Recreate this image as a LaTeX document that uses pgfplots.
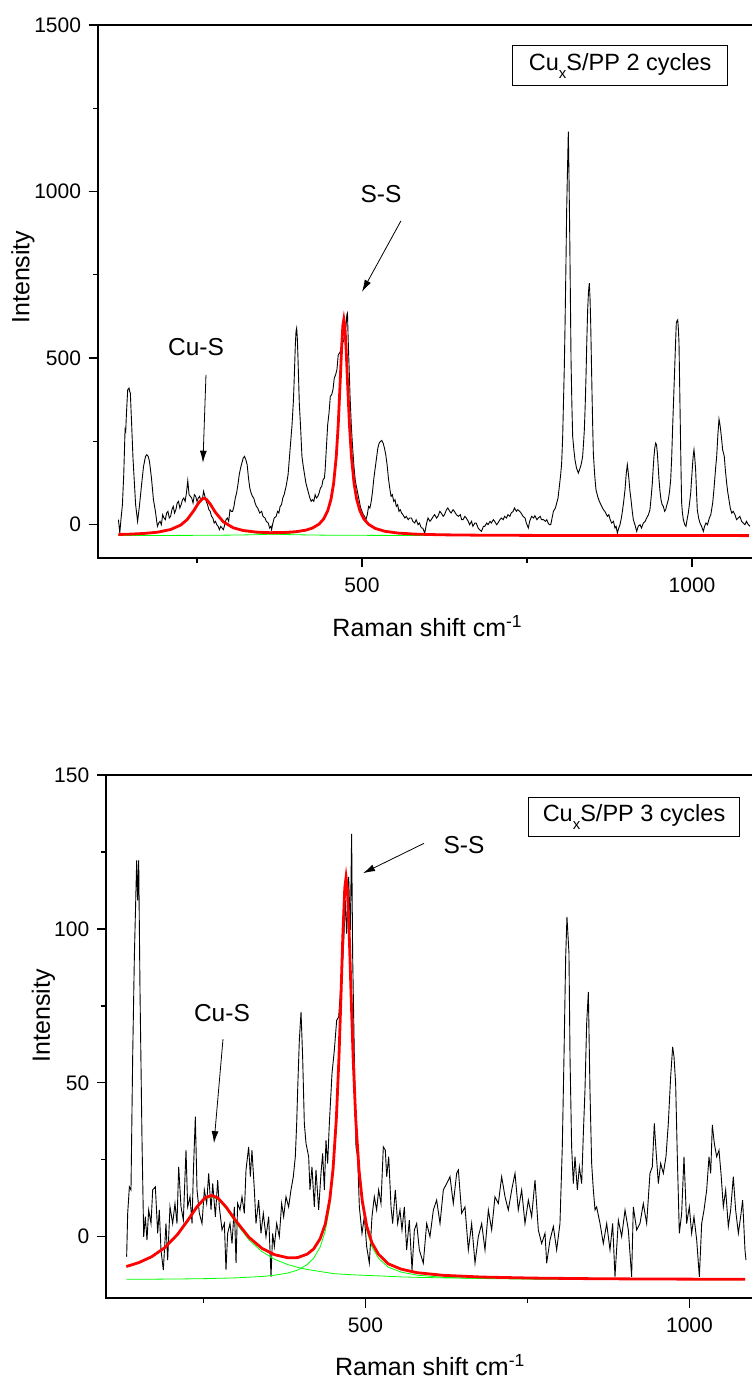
\documentclass[border=0pt]{standalone}
\usepackage{fontspec}
\setmainfont{Liberation Sans}
\usepackage{pgfplots}
\pgfplotsset{compat=1.18}
\usetikzlibrary{arrows.meta}
\newcommand{\subx}{\raisebox{-8bp}{\fontsize{15bp}{15bp}\selectfont x}}
\tikzset{
  ann/.style={font=\fontsize{24.5bp}{29bp}\selectfont},
  arr/.style={line width=0.8bp, -{Latex[length=12bp,width=7bp]}},
  box/.style={draw, line width=1bp, font=\fontsize{23.5bp}{28bp}\selectfont, inner sep=0pt},
}
\pgfplotsset{
  ramanaxis/.style={
    scale only axis,
    xmin=100, xmax=1100,
    axis line style={line width=1.6bp},
    every tick/.style={line width=1.3bp, black},
    tick align=outside,
    tick pos=left,
    major tick length=9.5bp,
    minor tick length=5bp,
    ticklabel style={font=\fontsize{21bp}{25bp}\selectfont},
    xticklabel style={yshift=-7bp},
    yticklabel style={xshift=-4bp},
    label style={font=\fontsize{25bp}{30bp}\selectfont},
    /pgf/number format/assume math mode=true,
    /pgf/number format/1000 sep={},
    xtick={500,1000}, minor xtick={250,750},
    xlabel={Raman shift cm\textsuperscript{-1}},
    ylabel={Intensity},
  },
  spec/.style={black, line width=0.9bp},
  fitc/.style={red, line width=2.8bp},
  comp/.style={green, line width=0.8bp},
}
\begin{document}
\begin{tikzpicture}
% ---------------- top axis ----------------
\begin{axis}[ramanaxis,
  at={(98bp,820bp)}, anchor=south west,
  width=660bp, height=533bp,
  ymin=-100, ymax=1500,
  ytick={0,500,1000,1500}, minor ytick={250,750,1250},
  ylabel style={at={(rel axis cs:-0.1136,0.527)}, anchor=center},
  xlabel style={at={(rel axis cs:0.499,-0.148)}, anchor=base},
]
\addplot[spec] coordinates {
(131,15) (133,-25) (135,20) (137,60) (139,150) (141,285) (142,280) (143,330) (145,405) (147,410) (148,400) (149,395) (151,300) (153,200) (155,130) (157,60) (160,10) (163,60) (166,120) (169,175) (172,205) (174,210) (176,205) (178,190) (181,140) (184,75) (187,40) (190,-5) (192,5) (194,10) (196,0) (198,30) (200,20) (202,15) (204,35) (206,40) (208,20) (210,25) (212,45) (214,55) (216,35) (218,45) (220,65) (222,70) (224,50) (226,60) (228,75) (230,80) (232,70) (234,95) (236,132) (238,90) (240,85) (242,80) (244,65) (246,90) (248,85) (250,70) (252,80) (254,85) (256,70) (258,75) (260,100) (262,85) (264,70) (266,60) (268,45) (270,40) (272,25) (274,20) (276,5) (278,10) (280,0) (282,-5) (284,-15) (286,-5) (288,-10) (290,-15) (292,0) (294,15) (296,20) (298,10) (300,45) (302,40) (304,40) (306,55) (308,80) (310,95) (312,120) (314,150) (316,170) (318,185) (320,200) (322,205) (324,195) (326,180) (328,140) (330,110) (332,95) (334,85) (336,80) (338,65) (340,55) (342,50) (345,35) (348,40) (350,25) (353,20) (355,10) (358,5) (360,-10) (362,-5) (363,-15) (365,5) (367,20) (370,25) (372,40) (374,35) (376,55) (378,60) (380,80) (382,90) (385,115) (388,150) (390,200) (392,250) (394,300) (396,370) (397,420) (399,540) (400,580) (401,590) (402,560) (403,500) (405,365) (407,290) (409,205) (411,175) (413,150) (415,125) (417,110) (419,95) (421,80) (423,70) (425,75) (427,70) (429,90) (431,80) (433,85) (435,95) (437,110) (439,115) (441,135) (443,140) (444,160) (446,230) (448,300) (450,335) (452,385) (454,390) (456,405) (458,440) (460,450) (462,465) (464,510) (466,515) (468,525) (470,555) (472,550) (474,580) (476,600) (477,630) (478,635) (479,560) (480,500) (482,380) (484,290) (486,225) (488,170) (490,130) (492,110) (494,90) (496,70) (498,50) (500,40) (502,30) (504,25) (506,15) (508,30) (510,55) (512,50) (514,70) (516,100) (518,140) (520,170) (522,200) (524,230) (526,245) (528,250) (530,253) (532,245) (534,230) (536,210) (538,180) (540,140) (542,110) (544,85) (546,90) (548,70) (550,75) (552,55) (554,60) (556,40) (558,45) (560,35) (562,30) (565,20) (567,25) (570,15) (572,20) (575,20) (577,10) (580,5) (582,15) (585,0) (587,5) (590,-10) (592,-10) (595,-25) (598,5) (600,20) (603,10) (605,15) (608,25) (610,30) (613,20) (615,25) (618,40) (620,35) (623,25) (625,30) (628,45) (630,50) (633,40) (635,35) (638,45) (640,40) (643,30) (646,25) (649,30) (651,15) (653,15) (656,25) (658,20) (661,10) (663,0) (666,10) (668,-5) (671,5) (673,5) (676,-10) (678,-15) (681,-20) (684,-5) (686,-5) (689,5) (691,0) (694,10) (696,5) (699,15) (701,10) (704,0) (706,5) (709,15) (711,20) (714,15) (716,25) (719,20) (721,30) (724,25) (726,35) (729,40) (731,50) (734,40) (736,45) (739,40) (741,35) (744,25) (747,20) (749,5) (752,-10) (754,10) (757,25) (760,20) (762,27) (765,15) (767,20) (770,25) (772,15) (775,15) (778,10) (780,15) (782,5) (784,0) (786,0) (788,20) (790,40) (793,50) (795,65) (797,80) (799,115) (801,150) (802.5,185) (804,260) (805,345) (806.5,470) (807.6,595) (809,780) (810.1,945) (811.5,1080) (812.6,1180) (813.6,1050) (814.6,895) (815.7,690) (816.7,495) (818,360) (819.2,265) (821,225) (822.7,195) (825,170) (827.8,155) (829.5,165) (831.3,175) (833,190) (834.3,205) (835.5,240) (836.9,285) (838.2,360) (839.4,445) (840.6,550) (841.9,645) (843.2,700) (844.4,725) (845.5,680) (846.5,605) (847.5,500) (848.5,395) (849.5,300) (850.5,215) (852.5,150) (854.5,105) (857,85) (859.6,70) (862,60) (865.7,45) (868,40) (871.7,25) (874,30) (876,15) (878.3,5) (881,10) (883.3,-10) (885,-5) (886.9,-25) (889,-10) (890.9,0) (893,20) (894.9,45) (896.5,70) (898.5,105) (900.2,150) (902,180) (903.2,160) (904.5,135) (906,100) (907.6,75) (909.5,40) (911.1,15) (913.5,0) (916.2,-20) (918.5,-5) (921.2,0) (923.5,-10) (926.3,5) (929,10) (931.3,20) (934,30) (936.3,45) (938,80) (939.9,125) (941.2,170) (942.4,205) (943.6,230) (944.9,245) (946.2,240) (947.5,215) (948.8,175) (950,135) (951.5,100) (953,75) (954.8,60) (956.6,55) (958.5,40) (960.1,45) (962,60) (964.1,75) (966,100) (967.7,135) (969.2,200) (970.7,295) (972.2,380) (973.7,465) (975,540) (976.2,605) (977.3,612) (978.3,615) (979.3,590) (980.3,545) (981.3,420) (982.3,295) (983.3,170) (984.3,65) (985.5,35) (986.9,15) (989,0) (990.9,-5) (992.5,15) (994.4,35) (996,60) (998,95) (999.5,140) (1001,185) (1002,210) (1003,225) (1004.2,200) (1005.5,165) (1006.8,100) (1008,45) (1010,20) (1012.1,5) (1014.5,-5) (1017.2,-20) (1019,-5) (1021.2,5) (1023.5,0) (1026.2,20) (1028.5,30) (1031.3,65) (1033,100) (1034.8,145) (1036,175) (1037.4,205) (1039.2,270) (1040.9,317) (1042.4,300) (1043.9,275) (1045.2,250) (1046.4,225) (1047.7,215) (1048.9,205) (1050.5,165) (1052.5,125) (1054,100) (1056,75) (1058,50) (1060.1,35) (1062.5,40) (1065.1,30) (1067.5,15) (1070.2,20) (1072.5,25) (1075.2,10) (1077.5,5) (1080.3,0) (1082.5,10) (1085.3,0) (1087.9,-5)
};
\addplot[comp] coordinates {
(131,-29.9) (150,-28.8) (170,-26.8) (190,-23.2) (210,-15.4) (225,-2.3) (235,14.2) (245,40.9) (252,63.3) (258,76.5) (261,78) (264,75.4) (270,60.8) (278,35.3) (290,6.8) (305,-11.1) (320,-19.6) (340,-25.1) (360,-27.8) (380,-29.4) (400,-30.3) (440,-31.4) (500,-32.0) (600,-32.5) (800,-32.8) (1086,-32.9)
};
\addplot[comp] coordinates {
(131,-32.6) (200,-32.3) (250,-32.0) (300,-31.3) (340,-30.2) (380,-27.3) (400,-23.8) (415,-18.5) (425,-12.0) (435,0.1) (442,15.8) (448,39.6) (453,74.6) (457,122.2) (461,202.9) (464,298.5) (467,429.9) (469,524.7) (471,596.3) (472.5,615) (474,596.3) (476,524.7) (478,429.9) (481,298.5) (484,202.9) (488,122.2) (492,74.6) (497,39.6) (503,15.8) (510,0.1) (520,-12.0) (535,-20.7) (555,-25.9) (580,-28.8) (620,-30.8) (680,-31.9) (760,-32.4) (860,-32.7) (1086,-32.8)
};
\addplot[fitc] coordinates {
(131,-29.5) (150,-28.3) (170,-26.3) (190,-22.6) (210,-14.6) (225,-1.5) (235,15.0) (245,41.8) (252,64.3) (258,77.6) (261,79.1) (264,76.5) (270,62.0) (278,36.6) (290,8.3) (305,-9.4) (320,-17.5) (340,-22.3) (360,-24.0) (380,-23.7) (400,-21.1) (415,-16.3) (425,-10.0) (435,1.8) (442,17.4) (448,41.1) (453,76.0) (457,123.6) (461,204.3) (464,299.9) (467,431.3) (469,526.1) (471,597.7) (472.5,616.4) (474,597.5) (476,525.9) (478,431.1) (481,299.6) (484,204.0) (488,123.3) (492,75.7) (497,40.6) (503,16.7) (510,1.0) (520,-11.2) (535,-20.0) (555,-25.3) (580,-28.3) (620,-30.4) (680,-31.6) (760,-32.2) (860,-32.5) (960,-32.7) (1086,-32.8)
};
\node[ann] at (axis cs:528.8,993) {S-S};
\draw[arr] (axis cs:559,912) -- (axis cs:500,699);
\node[ann] at (axis cs:248.5,534) {Cu-S};
\draw[arr] (axis cs:263.6,450) -- (axis cs:259,186);
\node[box, minimum width=215bp, minimum height=40bp] at (axis cs:891.2,1378) {Cu\subx S/PP 2 cycles};
\end{axis}
% ---------------- bottom axis ----------------
\begin{axis}[ramanaxis,
  at={(106.3bp,79.7bp)}, anchor=south west,
  width=648bp, height=523.3bp,
  ymin=-20, ymax=150,
  ytick={0,50,100,150}, minor ytick={25,75,125},
  ylabel style={at={(rel axis cs:-0.0969,0.540)}, anchor=center},
  xlabel style={at={(rel axis cs:0.4995,-0.1466)}, anchor=base},
]
\addplot[spec] coordinates {
(131.4,-6.5) (133.0,7.6) (135.6,16.2) (138.1,15.2) (140.7,58.4) (143.3,90.9) (146.9,122.3) (148.4,109.3) (150.0,122.3) (152.0,80.1) (155.1,31.4) (157.7,0.0) (160.2,6.5) (162.8,-1.1) (165.4,8.7) (169.0,4.3) (171.6,15.2) (175.7,16.2) (179.3,1.1) (181.8,8.7) (184.4,-4.3) (188.0,-10.8) (192.1,4.3) (194.7,-7.6) (198.3,9.7) (202.4,4.3) (206.0,10.8) (209.1,4.3) (211.7,22.7) (215.3,9.7) (218.9,5.4) (223.0,28.1) (225.6,9.7) (229.2,13.0) (232.3,4.3) (234.3,20.6) (237.4,39.0) (240.0,15.2) (243.6,7.6) (247.7,4.3) (251.3,15.2) (254.9,10.8) (258.0,20.6) (261.6,8.7) (264.2,17.3) (268.3,6.5) (271.9,18.4) (274.4,9.7) (278.6,2.2) (282.2,4.3) (284.7,-10.8) (287.3,1.1) (290.9,4.3) (294.0,-2.2) (297.6,9.7) (300.2,-8.6) (302.7,10.8) (306.3,8.7) (309.4,13.0) (313.0,7.6) (315.6,21.7) (319.7,29.2) (322.3,19.5) (324.8,28.1) (328.5,15.2) (331.0,4.3) (335.1,11.9) (338.7,1.1) (342.3,7.6) (346.4,0.0) (350.6,6.5) (354.2,-13.0) (356.7,1.1) (359.3,-3.2) (362.9,4.3) (367.0,0.0) (370.6,10.8) (373.7,6.5) (377.3,13.0) (381.4,9.7) (385.0,15.2) (388.6,19.5) (391.7,26.0) (393.8,36.8) (395.3,47.6) (397.9,63.9) (400.5,73.0) (403.0,58.4) (405.6,36.8) (408.2,30.3) (412.3,26.0) (414.3,15.2) (417.4,22.7) (421.0,9.7) (423.6,21.7) (427.7,8.7) (431.3,20.6) (433.9,27.1) (436.5,15.2) (439.0,31.4) (441.6,23.8) (444.2,36.8) (448.3,53.0) (451.9,60.6) (455.5,70.3) (458.6,71.4) (462.2,82.2) (465.8,93.1) (468.9,109.3) (470.9,98.5) (474.0,116.9) (476.6,99.6) (478.6,130.9) (480.2,90.9) (482.8,58.4) (485.3,29.2) (487.9,26.0) (490.5,9.7) (494.6,1.1) (498.2,6.5) (501.8,-3.2) (505.9,-8.6) (510.0,6.5) (513.6,13.0) (517.2,8.7) (520.3,15.2) (523.9,10.8) (527.5,29.2) (530.6,28.1) (532.7,19.5) (535.8,26.0) (539.4,9.7) (541.9,4.3) (546.0,15.2) (549.6,4.3) (553.2,8.7) (556.3,2.2) (559.9,9.7) (563.5,-4.3) (567.6,5.4) (571.8,-10.8) (575.4,2.2) (579.0,4.3) (583.1,-4.3) (589.2,-8.6) (594.4,4.3) (599.5,0.0) (604.7,8.7) (609.8,11.9) (615.0,4.3) (620.1,15.2) (625.3,17.3) (630.4,19.5) (635.5,10.8) (640.7,20.6) (643.3,21.7) (648.4,7.6) (653.5,9.7) (658.7,-4.3) (663.8,4.3) (669.0,-8.6) (674.1,0.0) (679.3,4.3) (684.4,-4.3) (689.6,8.7) (694.7,2.2) (699.8,13.0) (705.0,10.8) (710.1,19.5) (715.3,13.0) (720.4,8.7) (725.6,15.2) (730.7,20.6) (735.8,8.7) (741.0,15.2) (746.1,4.3) (751.3,11.9) (756.4,6.5) (761.6,18.4) (766.7,2.2) (771.9,-2.2) (777.0,1.1) (779.6,-8.6) (784.7,-1.1) (789.9,3.3) (795.0,-4.3) (800.1,4.3) (803.7,29.2) (806.3,58.4) (808.9,90.9) (810.9,103.9) (814.0,92.0) (815.6,58.4) (818.1,29.2) (820.7,17.3) (823.3,26.0) (826.9,15.2) (830.0,22.7) (833.6,17.3) (836.2,33.6) (838.7,47.6) (841.3,69.3) (843.9,79.5) (846.4,47.6) (849.0,23.8) (851.6,15.2) (854.2,8.7) (856.7,9.7) (861.9,4.3) (867.0,-2.2) (872.2,4.3) (877.3,-4.3) (881.4,4.3) (885.0,-13.0) (890.2,5.4) (895.3,0.0) (900.5,8.7) (905.6,2.2) (910.7,-13.0) (913.3,9.7) (918.5,2.2) (923.6,4.3) (928.7,10.8) (933.9,4.3) (939.0,20.6) (942.6,22.7) (945.7,36.8) (948.3,28.1) (951.9,17.3) (955.5,23.8) (959.6,20.6) (963.7,26.0) (967.3,36.8) (970.9,51.9) (974.0,61.7) (976.1,58.4) (978.6,49.8) (981.2,26.0) (984.3,1.1) (987.9,7.6) (991.5,26.0) (995.6,4.3) (999.7,9.7) (1003.3,1.1) (1006.9,6.5) (1011.1,-1.1) (1015.2,-13.0) (1018.8,4.3) (1022.4,8.7) (1026.5,15.2) (1030.1,26.0) (1032.7,20.6) (1035.2,36.3) (1038.3,30.3) (1041.9,26.0) (1045.5,28.1) (1048.6,20.6) (1052.2,9.7) (1055.8,15.2) (1059.9,3.3) (1063.5,8.7) (1067.6,19.5) (1071.2,8.7) (1075.4,1.1) (1078.9,6.5) (1082.0,11.9) (1085.6,-4.3) (1087.2,-7.6)
};
\addplot[comp] coordinates {
(131,-9.83) (150,-8.60) (170,-6.70) (190,-3.82) (210,0.50) (225,4.79) (240,9.39) (252,12.17) (262,13.0) (272,12.17) (285,9.10) (300,4.49) (320,-0.97) (340,-4.82) (360,-7.35) (380,-9.04) (395,-9.93) (410,-10.62) (430,-11.30) (450,-11.97) (470,-12.25) (490,-12.46) (520,-12.71) (555,-13.05) (580,-13.19) (620,-13.36) (680,-13.52) (760,-13.66) (860,-13.77) (960,-13.83) (1086,-13.88)
};
\addplot[comp] coordinates {
(131,-13.84) (170,-13.79) (210,-13.73) (252,-13.61) (300,-13.36) (340,-12.92) (360,-12.5) (380,-11.79) (395,-10.86) (410,-9.04) (420,-6.97) (430,-3.36) (438,1.91) (445,10.16) (450,20.15) (455,36.34) (459,56.1) (462,75.3) (465,95.9) (468,111.5) (470,115) (472,111.5) (475,95.9) (478,75.3) (481,56.1) (485,36.34) (490,20.15) (495,10.16) (502,1.91) (510,-3.36) (520,-6.97) (535,-9.88) (555,-11.48) (580,-12.5) (620,-13.18) (680,-13.58) (760,-13.78) (860,-13.88) (1086,-13.95)
};
\addplot[fitc] coordinates {
(131,-9.67) (150,-8.42) (170,-6.49) (190,-3.58) (210,0.77) (225,5.10) (240,9.74) (252,12.56) (262,13.43) (272,12.64) (285,9.64) (300,5.13) (320,-0.15) (340,-3.74) (360,-5.85) (380,-6.83) (395,-6.79) (410,-5.66) (420,-3.96) (430,-0.66) (438,4.18) (445,12.29) (450,22.18) (455,38.29) (459,57.99) (462,77.15) (465,97.7) (468,113.3) (470,116.75) (472,113.2) (475,97.6) (478,76.96) (481,57.73) (485,37.93) (490,21.69) (495,11.65) (502,3.34) (510,-2.0) (520,-5.68) (535,-8.79) (555,-10.53) (580,-11.69) (620,-12.54) (680,-13.10) (760,-13.44) (860,-13.65) (960,-13.75) (1086,-13.83)
};
\node[ann] at (axis cs:652,127.2) {S-S};
\draw[arr] (axis cs:590.3,127.8) -- (axis cs:496.2,118.1);
\node[ann] at (axis cs:278.5,72.5) {Cu-S};
\draw[arr] (axis cs:280.1,64.2) -- (axis cs:266.2,30.4);
\node[box, minimum width=210.6bp, minimum height=39.4bp] at (axis cs:914.4,136.3) {Cu\subx S/PP 3 cycles};
\end{axis}
\pgfresetboundingbox
\path[use as bounding box] (0,0) rectangle (752bp,1378bp);
\end{tikzpicture}
\end{document}
